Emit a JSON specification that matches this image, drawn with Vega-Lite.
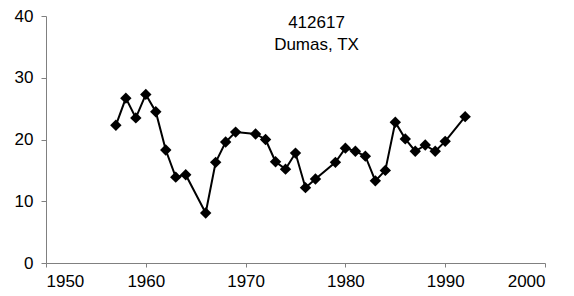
{
  "$schema": "https://vega.github.io/schema/vega-lite/v6.json",
  "width": 499,
  "height": 247,
  "autosize": {"type": "none"},
  "padding": {"left": 46, "top": 16, "right": 29, "bottom": 33},
  "background": "white",
  "config": {"view": {"stroke": null}, "font": "Liberation Sans"},
  "title": {
    "text": ["412617", "Dumas, TX"],
    "anchor": "middle",
    "frame": "group",
    "orient": "top",
    "baseline": "top",
    "offset": -47,
    "dx": 21,
    "fontSize": 17,
    "fontWeight": "normal",
    "lineHeight": 22,
    "color": "#000000",
    "font": "Liberation Sans"
  },
  "data": {
    "values": [
      {"year": 1957, "value": 22.3},
      {"year": 1958, "value": 26.7},
      {"year": 1959, "value": 23.5},
      {"year": 1960, "value": 27.3},
      {"year": 1961, "value": 24.5},
      {"year": 1962, "value": 18.3},
      {"year": 1963, "value": 13.9},
      {"year": 1964, "value": 14.3},
      {"year": 1966, "value": 8.1},
      {"year": 1967, "value": 16.3},
      {"year": 1968, "value": 19.6},
      {"year": 1969, "value": 21.2},
      {"year": 1971, "value": 20.9},
      {"year": 1972, "value": 20.0},
      {"year": 1973, "value": 16.4},
      {"year": 1974, "value": 15.2},
      {"year": 1975, "value": 17.8},
      {"year": 1976, "value": 12.2},
      {"year": 1977, "value": 13.6},
      {"year": 1979, "value": 16.3},
      {"year": 1980, "value": 18.6},
      {"year": 1981, "value": 18.1},
      {"year": 1982, "value": 17.3},
      {"year": 1983, "value": 13.3},
      {"year": 1984, "value": 15.0},
      {"year": 1985, "value": 22.8},
      {"year": 1986, "value": 20.1},
      {"year": 1987, "value": 18.1},
      {"year": 1988, "value": 19.1},
      {"year": 1989, "value": 18.1},
      {"year": 1990, "value": 19.7},
      {"year": 1992, "value": 23.7}
    ]
  },
  "encoding": {
    "x": {
      "field": "year",
      "type": "quantitative",
      "scale": {"domain": [1950, 2000], "nice": false, "zero": false},
      "axis": {
        "title": null,
        "values": [1950, 1960, 1970, 1980, 1990, 2000],
        "format": "d",
        "grid": false,
        "domainColor": "#808080",
        "tickColor": "#808080",
        "tickSize": 4,
        "labelFontSize": 17,
        "labelColor": "#000000",
        "labelPadding": 6,
        "labelFont": "Liberation Sans"
      }
    },
    "y": {
      "field": "value",
      "type": "quantitative",
      "scale": {"domain": [0, 40], "nice": false},
      "axis": {
        "title": null,
        "values": [0, 10, 20, 30, 40],
        "grid": false,
        "domainColor": "#808080",
        "tickColor": "#808080",
        "tickSize": 5,
        "labelFontSize": 17,
        "labelColor": "#000000",
        "labelPadding": 8,
        "labelFont": "Liberation Sans"
      }
    }
  },
  "layer": [
    {"mark": {"type": "line", "color": "#000000", "strokeWidth": 2}},
    {"mark": {"type": "point", "shape": "diamond", "filled": true, "color": "#000000", "opacity": 1, "size": 130}}
  ]
}
